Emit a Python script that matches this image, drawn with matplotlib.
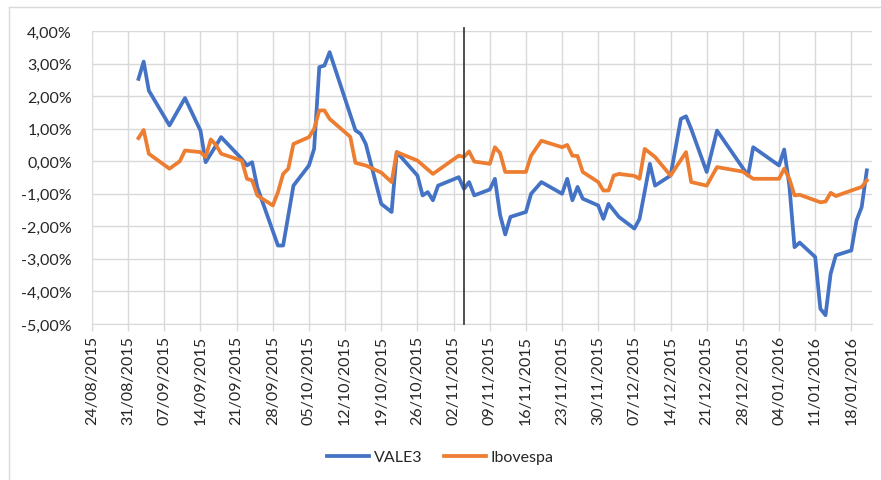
import numpy as np
import pandas as pd
import matplotlib
matplotlib.use("Agg")
import matplotlib.pyplot as plt
import matplotlib.dates as mdates
from matplotlib.lines import Line2D

plt.rcParams['font.family'] = ['Lato', 'DejaVu Sans']

# VALE3 daily variation (%)
vale_dates = [
    "2015-09-02", "2015-09-03", "2015-09-04", "2015-09-08", "2015-09-11", "2015-09-14",
    "2015-09-15", "2015-09-18", "2015-09-22", "2015-09-23", "2015-09-24", "2015-09-25",
    "2015-09-29", "2015-09-30", "2015-10-02", "2015-10-05", "2015-10-06", "2015-10-07",
    "2015-10-08", "2015-10-09", "2015-10-14", "2015-10-15", "2015-10-16", "2015-10-19",
    "2015-10-21", "2015-10-22", "2015-10-26", "2015-10-27", "2015-10-28", "2015-10-29",
    "2015-10-30", "2015-11-03", "2015-11-04", "2015-11-05", "2015-11-06", "2015-11-09",
    "2015-11-10", "2015-11-11", "2015-11-12", "2015-11-13", "2015-11-16", "2015-11-17",
    "2015-11-19", "2015-11-23", "2015-11-24", "2015-11-25", "2015-11-26", "2015-11-27",
    "2015-11-30", "2015-12-01", "2015-12-02", "2015-12-04", "2015-12-07", "2015-12-08",
    "2015-12-10", "2015-12-11", "2015-12-14", "2015-12-16", "2015-12-17", "2015-12-18",
    "2015-12-21", "2015-12-23", "2015-12-29", "2015-12-30", "2016-01-04", "2016-01-05",
    "2016-01-06", "2016-01-07", "2016-01-08", "2016-01-11", "2016-01-12", "2016-01-13",
    "2016-01-14", "2016-01-15", "2016-01-18", "2016-01-19", "2016-01-20", "2016-01-21",
]
vale_values = [
    2.53, 3.06, 2.17, 1.10, 1.94, 0.94,
    -0.03, 0.74, 0.07, -0.13, -0.03, -0.80,
    -2.59, -2.59, -0.75, -0.13, 0.38, 2.89,
    2.94, 3.35, 0.95, 0.84, 0.53, -1.31,
    -1.56, 0.28, -0.44, -1.05, -0.95, -1.20,
    -0.75, -0.49, -0.85, -0.64, -1.05, -0.87,
    -0.54, -1.65, -2.25, -1.71, -1.56, -1.00,
    -0.64, -1.00, -0.54, -1.20, -0.79, -1.15,
    -1.36, -1.77, -1.31, -1.71, -2.07, -1.77,
    -0.08, -0.75, -0.44, 1.30, 1.38, 0.99,
    -0.33, 0.94, -0.44, 0.43, -0.13, 0.36,
    -0.75, -2.64, -2.50, -2.94, -4.53, -4.73,
    -3.45, -2.89, -2.74, -1.82, -1.41, -0.28,
]

# Ibovespa daily variation (%)
ibov_dates = [
    "2015-09-02", "2015-09-03", "2015-09-04", "2015-09-08", "2015-09-10", "2015-09-11",
    "2015-09-14", "2015-09-15", "2015-09-16", "2015-09-17", "2015-09-18", "2015-09-22",
    "2015-09-23", "2015-09-24", "2015-09-25", "2015-09-28", "2015-09-29", "2015-09-30",
    "2015-10-01", "2015-10-02", "2015-10-05", "2015-10-06", "2015-10-07", "2015-10-08",
    "2015-10-09", "2015-10-13", "2015-10-14", "2015-10-16", "2015-10-19", "2015-10-21",
    "2015-10-22", "2015-10-26", "2015-10-29", "2015-11-03", "2015-11-04", "2015-11-05",
    "2015-11-06", "2015-11-09", "2015-11-10", "2015-11-11", "2015-11-12", "2015-11-16",
    "2015-11-17", "2015-11-19", "2015-11-23", "2015-11-24", "2015-11-25", "2015-11-26",
    "2015-11-27", "2015-11-30", "2015-12-01", "2015-12-02", "2015-12-03", "2015-12-04",
    "2015-12-07", "2015-12-08", "2015-12-09", "2015-12-11", "2015-12-14", "2015-12-17",
    "2015-12-18", "2015-12-21", "2015-12-23", "2015-12-28", "2015-12-30", "2016-01-04",
    "2016-01-05", "2016-01-06", "2016-01-07", "2016-01-08", "2016-01-12", "2016-01-13",
    "2016-01-14", "2016-01-15", "2016-01-18", "2016-01-20", "2016-01-21",
]
ibov_values = [
    0.71, 0.96, 0.23, -0.23, 0.00, 0.33,
    0.28, 0.13, 0.67, 0.50, 0.23, 0.02,
    -0.54, -0.59, -1.05, -1.36, -0.95, -0.39,
    -0.23, 0.53, 0.74, 0.99, 1.56, 1.56,
    1.30, 0.75, -0.05, -0.13, -0.35, -0.64,
    0.28, 0.02, -0.39, 0.17, 0.13, 0.30,
    -0.01, -0.08, 0.43, 0.25, -0.33, -0.33,
    0.17, 0.63, 0.43, 0.50, 0.17, 0.16,
    -0.33, -0.64, -0.90, -0.90, -0.44, -0.39,
    -0.45, -0.54, 0.38, 0.13, -0.44, 0.28,
    -0.64, -0.75, -0.18, -0.32, -0.54, -0.54,
    -0.23, -0.54, -1.05, -1.03, -1.26, -1.24,
    -0.97, -1.07, -0.90, -0.79, -0.59,
]

event_date = "2015-11-04"
y_ticks = [4, 3, 2, 1, 0, -1, -2, -3, -4, -5]
x_ticks = pd.date_range("2015-08-24", "2016-01-18", freq="7D")

BLUE = "#4472C4"
ORANGE = "#ED7D31"
GRID = "#d9d9d9"
TEXT = "#262626"

fig = plt.figure(figsize=(8.81, 4.81), dpi=100)
ax = fig.add_axes([92 / 881, 156 / 481, 780 / 881, 293 / 481])

ax.plot(pd.to_datetime(vale_dates), vale_values, color=BLUE, lw=2.7,
        solid_joinstyle="round", label="VALE3", zorder=3)
ax.plot(pd.to_datetime(ibov_dates), ibov_values, color=ORANGE, lw=2.7,
        solid_joinstyle="round", label="Ibovespa", zorder=4)
ax.axvline(pd.Timestamp(event_date), ymin=0, ymax=1.01, color="#404040",
           lw=1.3, zorder=5, clip_on=False)

ax.set_xlim(pd.Timestamp("2015-08-24"), pd.Timestamp("2016-01-22"))
ax.set_ylim(-5, 4)
ax.set_xticks(x_ticks)
ax.xaxis.set_major_formatter(mdates.DateFormatter("%d/%m/%Y"))
ax.set_yticks(y_ticks)
ax.set_yticklabels([f"{v:.2f}%".replace(".", ",") for v in y_ticks])

ax.grid(True, color=GRID, lw=1.0, zorder=0)
for side in ["top", "right", "left"]:
    ax.spines[side].set_visible(False)
ax.spines["bottom"].set_color(GRID)
ax.tick_params(axis="x", rotation=90, labelsize=11.5, colors=TEXT,
               length=5, width=1.0, color=GRID, pad=3)
ax.tick_params(axis="y", labelsize=11.5, colors=TEXT, length=0, pad=14.5)

handles = [Line2D([], [], color=BLUE, lw=2.7), Line2D([], [], color=ORANGE, lw=2.7)]
fig.legend(handles, ["VALE3", "Ibovespa"], loc="center", bbox_to_anchor=(0.5, 1 - 458 / 481),
           ncol=2, frameon=False, fontsize=11.5, labelcolor=TEXT, handlelength=2.6,
           handletextpad=0.3, columnspacing=1.4)

# chart area border (left and top edges visible in the original crop)
fig.add_artist(Line2D([9 / 881, 9 / 881], [0, 1 - 8 / 481], color=GRID, lw=1.0))
fig.add_artist(Line2D([9 / 881, 1], [1 - 8 / 481, 1 - 8 / 481], color=GRID, lw=1.0))

fig.savefig("out.png", dpi=100)
